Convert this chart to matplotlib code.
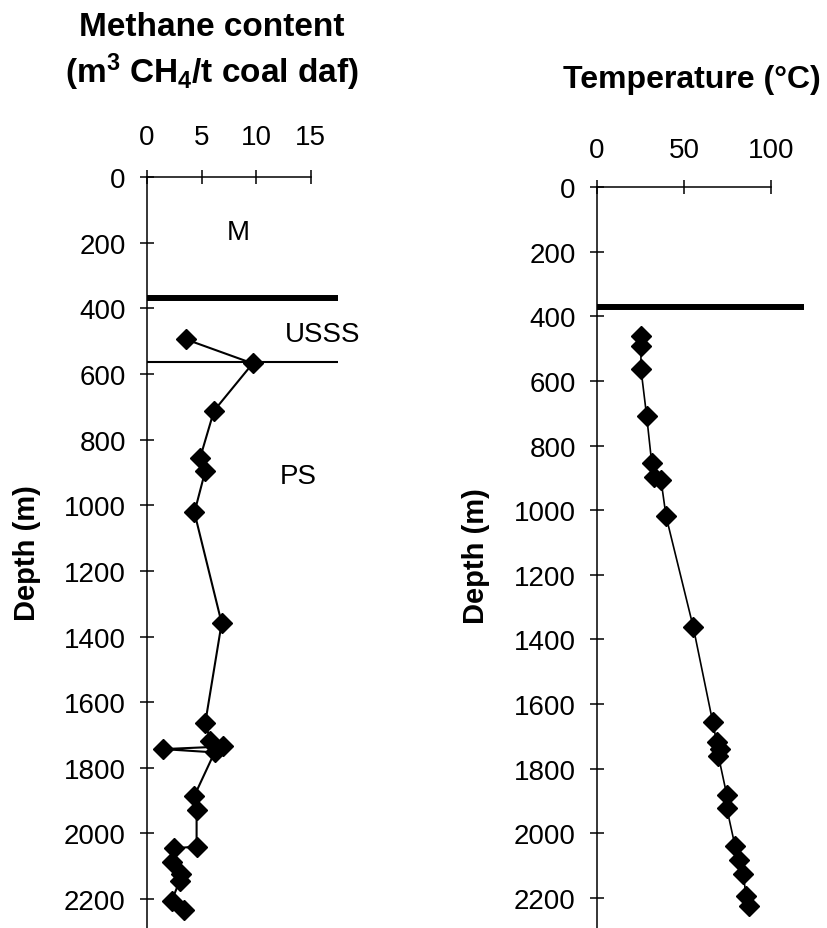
import matplotlib
matplotlib.use("Agg")
import matplotlib.pyplot as plt

plt.rcParams["font.family"] = ["Liberation Sans", "DejaVu Sans"]
plt.rcParams["mathtext.fontset"] = "custom"
plt.rcParams["mathtext.rm"] = "Liberation Sans:bold"
plt.rcParams["mathtext.it"] = "Liberation Sans:bold:italic"
plt.rcParams["mathtext.bf"] = "Liberation Sans:bold"
plt.rcParams["mathtext.default"] = "rm"

# Methane content profile
methane_depth = [495, 568, 712, 857, 895, 1022, 1359, 1662, 1717, 1735, 1743,
                 1753, 1885, 1927, 2040, 2045, 2088, 2124, 2144, 2205, 2232]
methane_content = [3.6, 9.7, 6.15, 4.86, 5.35, 4.35, 6.85, 5.35, 5.8, 7.0, 1.5,
                   6.2, 4.35, 4.55, 4.55, 2.5, 2.27, 3.1, 3.0, 2.27, 3.35]

# Temperature profile
temp_depth = [462, 491, 563, 710, 855, 898, 907, 1019, 1362, 1654, 1718, 1739,
              1760, 1881, 1922, 2038, 2084, 2126, 2193, 2224]
temperature = [25.2, 25.2, 25.2, 28.5, 31.4, 32.7, 36.7, 39.6, 55.2, 66.3, 68.6,
               70.5, 69.6, 74.4, 74.4, 79.1, 81.6, 83.9, 85.4, 87.3]

# Stratigraphic boundaries and zone labels
boundary_thick = 370
boundary_thin = 565
zone_labels = ["M", "USSS", "PS"]
zone_label_x = [8.35, 16.1, 13.9]
zone_label_depth = [168, 478, 911]

depth_ticks = list(range(0, 2201, 200))
methane_ticks = [0, 5, 10, 15]
temp_ticks = [0, 50, 100]

W, H = 827, 929
fig = plt.figure(figsize=(W / 100, H / 100), dpi=100)


def style_axis(ax, xticks, xmax_spine, xpad, ypad):
    for s in ("right", "bottom"):
        ax.spines[s].set_visible(False)
    for s in ("left", "top"):
        ax.spines[s].set_linewidth(1.1)
        ax.spines[s].set_color("black")
    ax.spines["top"].set_bounds(0, xmax_spine)
    ax.xaxis.tick_top()
    ax.set_xticks(xticks)
    ax.set_yticks(depth_ticks)
    ax.tick_params(axis="x", direction="inout", length=10.5, width=1.1,
                   labelsize=20, pad=xpad)
    ax.tick_params(axis="y", direction="inout", length=10.5, width=1.1,
                   labelsize=20, pad=ypad)
    ax.patch.set_alpha(0)


# Left panel: methane content
ax1 = fig.add_axes([147 / W, 0, 18 * 10.9 / W, (H - 178) / H])
ax1.set_xlim(0, 18)
ax1.set_ylim(2288, 0)
style_axis(ax1, methane_ticks, 15, 14, 10)
ax1.hlines(boundary_thick, 0, 17.5, color="black", lw=4.3)
ax1.hlines(boundary_thin, 0, 17.5, color="black", lw=1.5)
ax1.plot(methane_content, methane_depth, color="black", lw=1.5,
         marker="D", markersize=10, clip_on=False)
for lab, x, d in zip(zone_labels, zone_label_x, zone_label_depth):
    ax1.text(x, d, lab, fontsize=20, ha="center", va="center")

# Right panel: temperature
ax2 = fig.add_axes([597 / W, 0, 120 * 1.744 / W, (H - 188) / H])
ax2.set_xlim(0, 120)
ax2.set_ylim(2293, 0)
style_axis(ax2, temp_ticks, 100, 12, 10)
ax2.hlines(boundary_thick, 0, 118.7, color="black", lw=4.3)
ax2.plot(temperature, temp_depth, color="black", lw=1.2,
         marker="D", markersize=10, clip_on=False)

# Titles and axis labels
fig.text(212 / W, 1 - 28 / H, "Methane content", fontsize=24,
         fontweight="bold", ha="center", va="center")
fig.text(212 / W, 1 - 72 / H, r"(m$^3$ CH$_4$/t coal daf)", fontsize=24,
         fontweight="bold", ha="center", va="center")
fig.text(692 / W, 1 - 80 / H, "Temperature (°C)", fontsize=23,
         fontweight="bold", ha="center", va="center")
fig.text(27 / W, 1 - 553 / H, "Depth (m)", fontsize=21, fontweight="bold",
         rotation=90, ha="center", va="center")
fig.text(476 / W, 1 - 556 / H, "Depth (m)", fontsize=21, fontweight="bold",
         rotation=90, ha="center", va="center")

fig.savefig("out.png", dpi=100, facecolor="white")
